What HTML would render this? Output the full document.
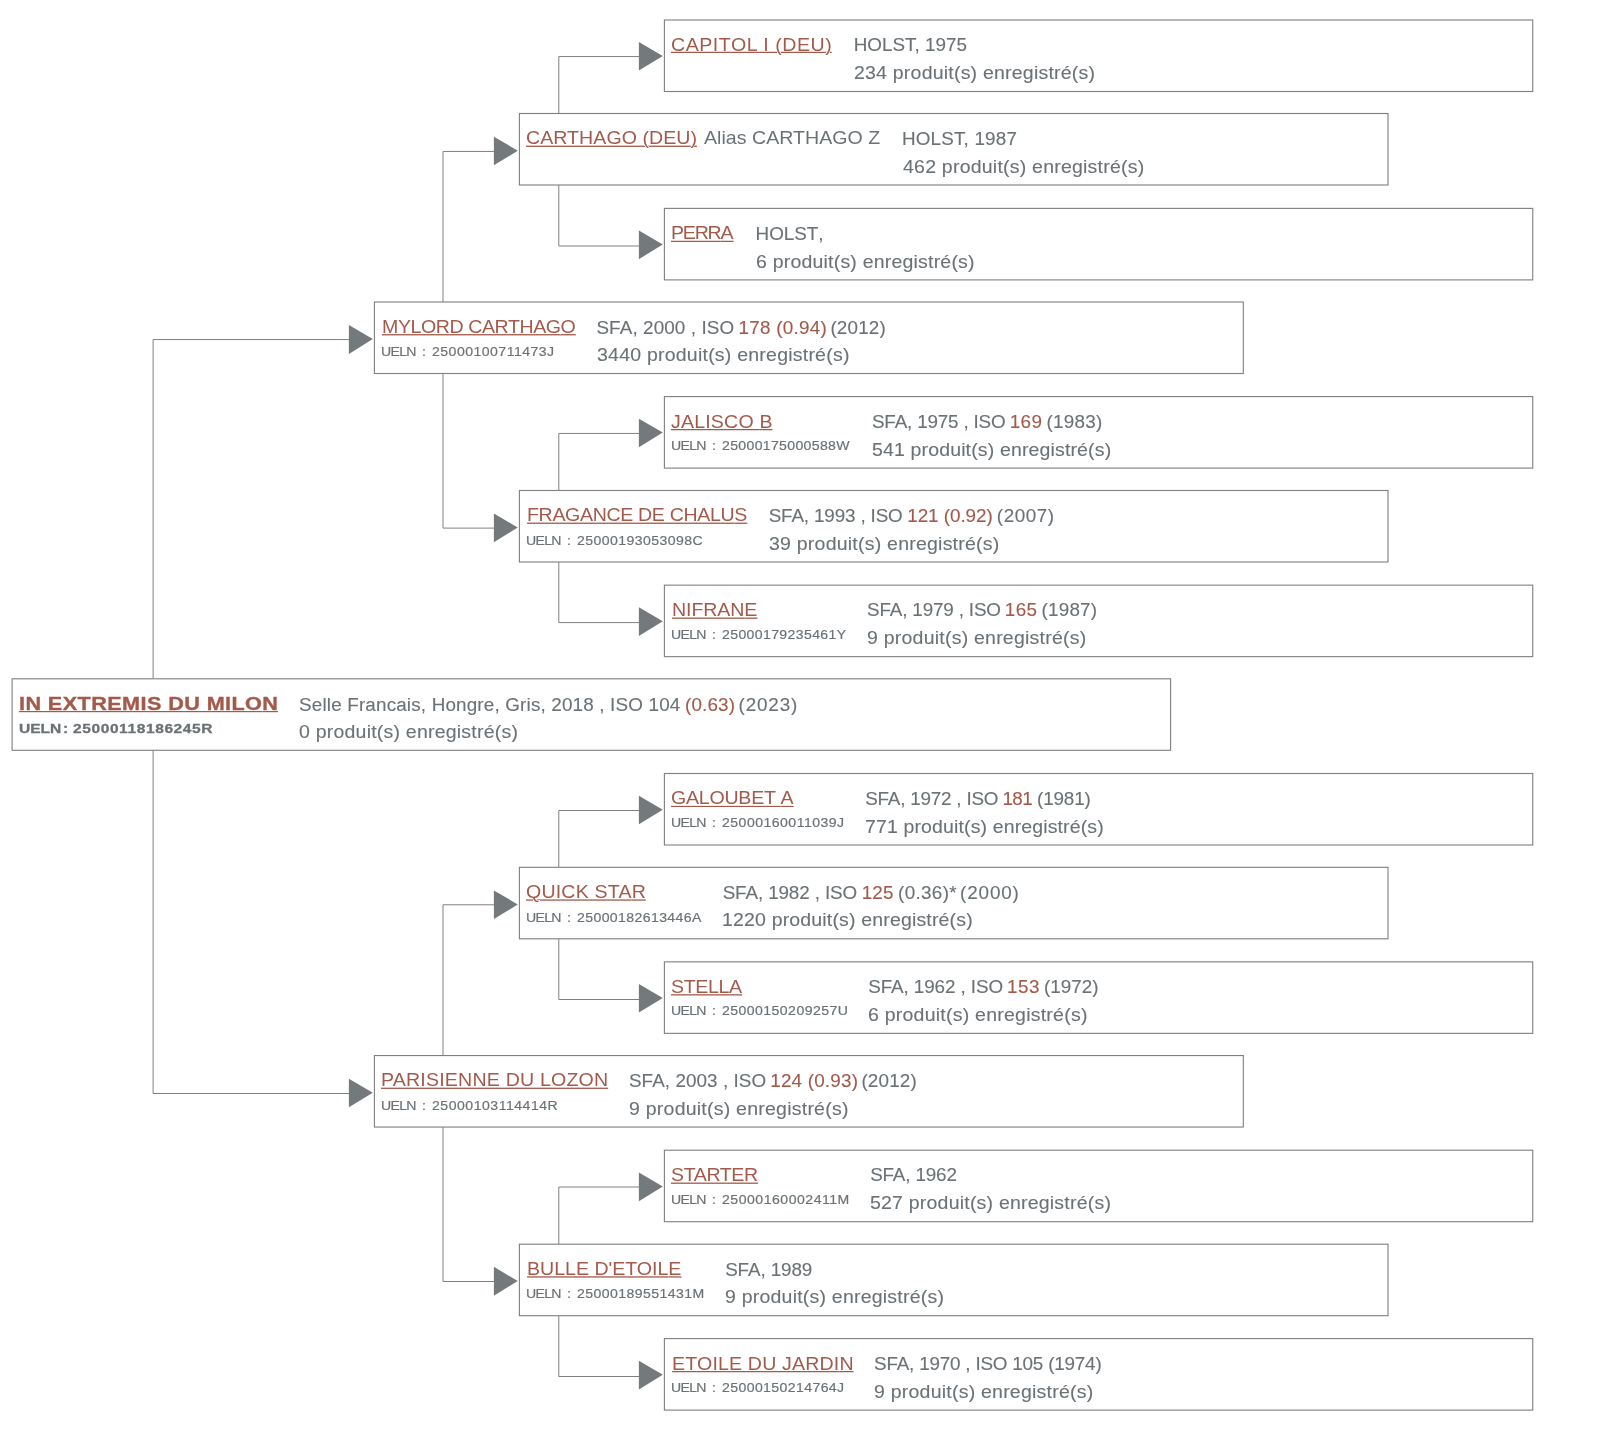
<!DOCTYPE html>
<html lang="fr"><head><meta charset="utf-8"><title>Pedigree - IN EXTREMIS DU MILON</title>
<style>
html,body{margin:0;padding:0;background:#fff}
#c{position:relative;width:1600px;height:1434px;overflow:hidden;background:#fff;font-family:"Liberation Sans",sans-serif;will-change:transform}
#c svg{position:absolute;left:0;top:0}
.t{position:absolute;white-space:pre;line-height:24px;transform-origin:0 50%;display:block;color:#6b7276}
.n{font-size:19.0px;color:#a35a4b;text-decoration:underline;text-decoration-thickness:1px;text-underline-offset:1.3px}
.u2{text-decoration:underline;text-decoration-thickness:1px;text-underline-offset:2.3px;text-decoration-color:rgba(163,90,75,.33)}
.a{font-size:19.0px}
.u{font-size:13.4px;-webkit-text-stroke:0.2px}
.i{font-size:18.85px;-webkit-text-stroke:0.12px}
.r{color:#a35a4b}
.b{font-weight:bold;-webkit-text-stroke:0.35px #a35a4b}
.u.b{-webkit-text-stroke:0.3px #6b7276}
.z{letter-spacing:0}
</style></head><body>
<div id="c">
<svg width="1600" height="1434" viewBox="0 0 1600 1434">
<g fill="none" stroke="#808080" stroke-width="1.0">
<path d="M153.10 678.80V339.55H350.90"/>
<path d="M153.10 750.30V1093.50H350.90"/>
<path d="M443.00 302.00V151.45H495.90"/>
<path d="M443.00 373.50V528.10H495.90"/>
<path d="M443.00 1055.55V904.80H495.90"/>
<path d="M443.00 1127.05V1281.50H495.90"/>
<path d="M558.80 113.50V56.55H640.90"/>
<path d="M558.80 185.00V246.00H640.90"/>
<path d="M558.80 490.50V433.45H640.90"/>
<path d="M558.80 562.00V622.60H640.90"/>
<path d="M558.80 867.30V810.50H640.90"/>
<path d="M558.80 938.80V999.50H640.90"/>
<path d="M558.80 1244.20V1187.00H640.90"/>
<path d="M558.80 1315.70V1376.50H640.90"/>
</g>
<g fill="#747a7c">
<path d="M638.90 41.95L662.80 55.90L638.90 70.55Z"/>
<path d="M493.90 136.65L517.80 150.63L493.90 165.30Z"/>
<path d="M638.90 230.50L662.80 244.47L638.90 259.15Z"/>
<path d="M348.90 324.95L372.80 339.10L348.90 353.95Z"/>
<path d="M638.90 418.65L662.80 432.62L638.90 447.30Z"/>
<path d="M493.90 513.50L517.80 527.48L493.90 542.15Z"/>
<path d="M638.90 607.30L662.80 621.27L638.90 635.95Z"/>
<path d="M638.90 795.70L662.80 809.65L638.90 824.30Z"/>
<path d="M493.90 890.45L517.80 904.40L493.90 919.05Z"/>
<path d="M638.90 983.95L662.80 997.90L638.90 1012.55Z"/>
<path d="M348.90 1078.70L372.80 1092.68L348.90 1107.35Z"/>
<path d="M638.90 1172.50L662.80 1186.48L638.90 1201.15Z"/>
<path d="M493.90 1266.85L517.80 1281.00L493.90 1295.85Z"/>
<path d="M638.90 1360.75L662.80 1374.75L638.90 1389.45Z"/>
</g>
<g fill="#fff" stroke="#808080" stroke-width="1.12">
<rect x="664.40" y="20.00" width="868.35" height="71.5"/>
<rect x="519.40" y="113.50" width="868.60" height="71.5"/>
<rect x="664.40" y="208.40" width="868.35" height="71.5"/>
<rect x="374.40" y="302.00" width="868.90" height="71.5"/>
<rect x="664.40" y="396.60" width="868.35" height="71.5"/>
<rect x="519.40" y="490.50" width="868.60" height="71.5"/>
<rect x="664.40" y="585.15" width="868.35" height="71.5"/>
<rect x="12.10" y="678.80" width="1158.50" height="71.5"/>
<rect x="664.40" y="773.50" width="868.35" height="71.5"/>
<rect x="519.40" y="867.30" width="868.60" height="71.5"/>
<rect x="664.40" y="961.85" width="868.35" height="71.5"/>
<rect x="374.40" y="1055.55" width="868.90" height="71.5"/>
<rect x="664.40" y="1150.20" width="868.35" height="71.5"/>
<rect x="519.40" y="1244.20" width="868.60" height="71.5"/>
<rect x="664.40" y="1338.60" width="868.35" height="71.5"/>
</g>
</svg>
<span class="t n" style="left:671.00px;top:33px;letter-spacing:0.512px;transform:scaleX(1.0300);text-underline-offset:1px;text-decoration-color:rgba(163,90,75,1.00);"><span class="u2" style="text-underline-offset:0px;text-decoration-color:rgba(163,90,75,0.25)">CAPITOL I (DEU<span class="z">)</span></span></span>
<span class="t i" style="left:853.72px;top:33px;letter-spacing:0.010px;">HOLST, 197<span class="z">5</span></span>
<span class="t i" style="left:853.70px;top:61px;letter-spacing:0.205px;transform:scaleX(1.0350);">234 produit(s) enregistré(s<span class="z">)</span></span>
<span class="t n" style="left:526.00px;top:126px;letter-spacing:0.045px;transform:scaleX(1.0300);text-underline-offset:2px;text-decoration-color:rgba(163,90,75,0.90);"><span class="u2" style="text-underline-offset:1px;text-decoration-color:rgba(163,90,75,0.40)">CARTHAGO (DEU<span class="z">)</span></span></span>
<span class="t a" style="left:704.18px;top:126px;letter-spacing:0.025px;transform:scaleX(1.0300);">Alias CARTHAGO <span class="z">Z</span></span>
<span class="t i" style="left:901.97px;top:127px;letter-spacing:0.175px;">HOLST, 198<span class="z">7</span></span>
<span class="t i" style="left:903.43px;top:155px;letter-spacing:0.214px;transform:scaleX(1.0350);">462 produit(s) enregistré(s<span class="z">)</span></span>
<span class="t n" style="left:671.41px;top:221px;letter-spacing:-1.196px;transform:scaleX(1.0300);text-underline-offset:2px;text-decoration-color:rgba(163,90,75,1.00);"><span class="u2" style="text-underline-offset:1px;text-decoration-color:rgba(163,90,75,0.25)">PERR<span class="z">A</span></span></span>
<span class="t i" style="left:755.56px;top:222px;letter-spacing:-0.023px;">HOLST<span class="z">,</span></span>
<span class="t i" style="left:755.70px;top:250px;letter-spacing:0.194px;transform:scaleX(1.0350);">6 produit(s) enregistré(s<span class="z">)</span></span>
<span class="t n" style="left:382.01px;top:315px;letter-spacing:-0.410px;transform:scaleX(1.0300);text-underline-offset:1px;text-decoration-color:rgba(163,90,75,0.90);"><span class="u2" style="text-underline-offset:2px;text-decoration-color:rgba(163,90,75,0.40)">MYLORD CARTHAG<span class="z">O</span></span></span>
<span class="t u" style="left:381.18px;top:340px;letter-spacing:-0.654px;transform:scaleX(1.0500);">UEL<span class="z">N</span></span>
<span class="t u" style="left:421.76px;top:340px;transform:scaleX(1.0500);">:</span>
<span class="t u" style="left:431.85px;top:340px;letter-spacing:0.452px;transform:scaleX(1.0500);">25000100711473<span class="z">J</span></span>
<span class="t i" style="left:596.43px;top:316px;letter-spacing:0.116px;">SFA, 2000 , IS<span class="z">O</span></span>
<span class="t i r" style="left:738.44px;top:316px;letter-spacing:0.257px;">178 (0.94<span class="z">)</span></span>
<span class="t i" style="left:830.42px;top:316px;letter-spacing:0.167px;">(2012<span class="z">)</span></span>
<span class="t i" style="left:596.85px;top:343px;letter-spacing:0.218px;transform:scaleX(1.0350);">3440 produit(s) enregistré(s<span class="z">)</span></span>
<span class="t n" style="left:670.97px;top:410px;letter-spacing:0.173px;transform:scaleX(1.0300);text-underline-offset:1px;text-decoration-color:rgba(163,90,75,1.00);"><span class="u2" style="text-underline-offset:2px;text-decoration-color:rgba(163,90,75,0.25)">JALISCO <span class="z">B</span></span></span>
<span class="t u" style="left:671.18px;top:434px;letter-spacing:-0.654px;transform:scaleX(1.0500);">UEL<span class="z">N</span></span>
<span class="t u" style="left:711.76px;top:434px;transform:scaleX(1.0500);">:</span>
<span class="t u" style="left:722.20px;top:434px;letter-spacing:0.323px;transform:scaleX(1.0500);">25000175000588<span class="z">W</span></span>
<span class="t i" style="left:871.98px;top:410px;letter-spacing:-0.182px;">SFA, 1975 , IS<span class="z">O</span></span>
<span class="t i r" style="left:1009.63px;top:410px;letter-spacing:0.507px;">16<span class="z">9</span></span>
<span class="t i" style="left:1046.42px;top:410px;letter-spacing:0.276px;">(1983<span class="z">)</span></span>
<span class="t i" style="left:872.26px;top:438px;letter-spacing:0.140px;transform:scaleX(1.0350);">541 produit(s) enregistré(s<span class="z">)</span></span>
<span class="t n" style="left:527.01px;top:503px;letter-spacing:-0.335px;transform:scaleX(1.0300);text-underline-offset:2px;text-decoration-color:rgba(163,90,75,0.90);"><span class="u2" style="text-underline-offset:1px;text-decoration-color:rgba(163,90,75,0.40)">FRAGANCE DE CHALU<span class="z">S</span></span></span>
<span class="t u" style="left:526.18px;top:529px;letter-spacing:-0.654px;transform:scaleX(1.0500);">UEL<span class="z">N</span></span>
<span class="t u" style="left:566.76px;top:529px;transform:scaleX(1.0500);">:</span>
<span class="t u" style="left:576.85px;top:529px;letter-spacing:0.415px;transform:scaleX(1.0500);">25000193053098<span class="z">C</span></span>
<span class="t i" style="left:768.71px;top:504px;letter-spacing:-0.155px;">SFA, 1993 , IS<span class="z">O</span></span>
<span class="t i r" style="left:907.19px;top:504px;letter-spacing:-0.038px;">121 (0.92<span class="z">)</span></span>
<span class="t i" style="left:996.80px;top:504px;letter-spacing:0.570px;">(2007<span class="z">)</span></span>
<span class="t i" style="left:768.98px;top:532px;letter-spacing:0.218px;transform:scaleX(1.0350);">39 produit(s) enregistré(s<span class="z">)</span></span>
<span class="t n" style="left:671.54px;top:598px;letter-spacing:-0.081px;transform:scaleX(1.0300);text-underline-offset:2px;text-decoration-color:rgba(163,90,75,0.80);"><span class="u2" style="text-underline-offset:1px;text-decoration-color:rgba(163,90,75,0.50)">NIFRAN<span class="z">E</span></span></span>
<span class="t u" style="left:671.18px;top:623px;letter-spacing:-0.654px;transform:scaleX(1.0500);">UEL<span class="z">N</span></span>
<span class="t u" style="left:711.76px;top:623px;transform:scaleX(1.0500);">:</span>
<span class="t u" style="left:721.85px;top:623px;letter-spacing:0.356px;transform:scaleX(1.0500);">25000179235461<span class="z">Y</span></span>
<span class="t i" style="left:867.05px;top:598px;letter-spacing:-0.158px;">SFA, 1979 , IS<span class="z">O</span></span>
<span class="t i r" style="left:1004.80px;top:598px;letter-spacing:0.398px;">16<span class="z">5</span></span>
<span class="t i" style="left:1041.42px;top:598px;letter-spacing:0.245px;">(1987<span class="z">)</span></span>
<span class="t i" style="left:866.99px;top:626px;letter-spacing:0.219px;transform:scaleX(1.0350);">9 produit(s) enregistré(s<span class="z">)</span></span>
<span class="t n b" style="left:18.99px;top:692px;letter-spacing:0.346px;transform:scaleX(1.1400);text-underline-offset:1px;text-decoration-color:rgba(163,90,75,1.00);"><span class="u2" style="text-underline-offset:2px;text-decoration-color:rgba(163,90,75,0.20)">IN EXTREMIS DU MILO<span class="z">N</span></span></span>
<span class="t u b" style="left:19.13px;top:717px;letter-spacing:-0.032px;transform:scaleX(1.1600);">UEL<span class="z">N</span></span>
<span class="t u b" style="left:63.00px;top:717px;transform:scaleX(1.1600);">:</span>
<span class="t u b" style="left:72.72px;top:717px;letter-spacing:0.504px;transform:scaleX(1.1600);">25000118186245<span class="z">R</span></span>
<span class="t i" style="left:299.05px;top:693px;letter-spacing:0.170px;">Selle Francais, Hongre, Gris, 2018 , ISO 10<span class="z">4</span></span>
<span class="t i r" style="left:685.06px;top:693px;letter-spacing:0.130px;">(0.63<span class="z">)</span></span>
<span class="t i" style="left:738.62px;top:693px;letter-spacing:0.836px;">(2023<span class="z">)</span></span>
<span class="t i" style="left:299.26px;top:720px;letter-spacing:0.207px;transform:scaleX(1.0350);">0 produit(s) enregistré(s<span class="z">)</span></span>
<span class="t n" style="left:671.00px;top:786px;letter-spacing:-0.231px;transform:scaleX(1.0300);text-underline-offset:2px;text-decoration-color:rgba(163,90,75,1.00);"><span class="u2" style="text-underline-offset:1px;text-decoration-color:rgba(163,90,75,0.15)">GALOUBET <span class="z">A</span></span></span>
<span class="t u" style="left:671.18px;top:811px;letter-spacing:-0.654px;transform:scaleX(1.0500);">UEL<span class="z">N</span></span>
<span class="t u" style="left:711.76px;top:811px;transform:scaleX(1.0500);">:</span>
<span class="t u" style="left:721.85px;top:811px;letter-spacing:0.452px;transform:scaleX(1.0500);">25000160011039<span class="z">J</span></span>
<span class="t i" style="left:865.16px;top:787px;letter-spacing:-0.207px;">SFA, 1972 , IS<span class="z">O</span></span>
<span class="t i r" style="left:1002.52px;top:787px;letter-spacing:-0.660px;">18<span class="z">1</span></span>
<span class="t i" style="left:1037.05px;top:787px;letter-spacing:-0.151px;">(1981<span class="z">)</span></span>
<span class="t i" style="left:864.75px;top:815px;letter-spacing:0.124px;transform:scaleX(1.0350);">771 produit(s) enregistré(s<span class="z">)</span></span>
<span class="t n" style="left:526.00px;top:880px;letter-spacing:0.178px;transform:scaleX(1.0300);text-underline-offset:2px;text-decoration-color:rgba(163,90,75,0.70);"><span class="u2" style="text-underline-offset:1px;text-decoration-color:rgba(163,90,75,0.60)">QUICK STA<span class="z">R</span></span></span>
<span class="t u" style="left:526.18px;top:906px;letter-spacing:-0.654px;transform:scaleX(1.0500);">UEL<span class="z">N</span></span>
<span class="t u" style="left:566.76px;top:906px;transform:scaleX(1.0500);">:</span>
<span class="t u" style="left:577.20px;top:906px;letter-spacing:0.377px;transform:scaleX(1.0500);">25000182613446<span class="z">A</span></span>
<span class="t i" style="left:722.68px;top:881px;letter-spacing:-0.122px;">SFA, 1982 , IS<span class="z">O</span></span>
<span class="t i r" style="left:861.63px;top:881px;letter-spacing:0.207px;">12<span class="z">5</span></span>
<span class="t i" style="left:898.05px;top:881px;letter-spacing:0.335px;">(0.36)<span class="z">*</span></span>
<span class="t i" style="left:960.05px;top:881px;letter-spacing:0.867px;">(2000<span class="z">)</span></span>
<span class="t i" style="left:722.10px;top:908px;letter-spacing:0.159px;transform:scaleX(1.0350);">1220 produit(s) enregistré(s<span class="z">)</span></span>
<span class="t n" style="left:670.73px;top:975px;letter-spacing:-0.333px;transform:scaleX(1.0300);text-underline-offset:1px;text-decoration-color:rgba(163,90,75,0.80);"><span class="u2" style="text-underline-offset:2px;text-decoration-color:rgba(163,90,75,0.50)">STELL<span class="z">A</span></span></span>
<span class="t u" style="left:671.18px;top:999px;letter-spacing:-0.654px;transform:scaleX(1.0500);">UEL<span class="z">N</span></span>
<span class="t u" style="left:711.76px;top:999px;transform:scaleX(1.0500);">:</span>
<span class="t u" style="left:721.85px;top:999px;letter-spacing:0.424px;transform:scaleX(1.0500);">25000150209257<span class="z">U</span></span>
<span class="t i" style="left:868.23px;top:975px;letter-spacing:-0.096px;">SFA, 1962 , IS<span class="z">O</span></span>
<span class="t i r" style="left:1007.02px;top:975px;letter-spacing:0.504px;">15<span class="z">3</span></span>
<span class="t i" style="left:1044.05px;top:975px;letter-spacing:0.018px;">(1972<span class="z">)</span></span>
<span class="t i" style="left:868.32px;top:1003px;letter-spacing:0.226px;transform:scaleX(1.0350);">6 produit(s) enregistré(s<span class="z">)</span></span>
<span class="t n" style="left:380.96px;top:1068px;letter-spacing:0.187px;transform:scaleX(1.0300);text-underline-offset:2px;text-decoration-color:rgba(163,90,75,0.95);"><span class="u2" style="text-underline-offset:1px;text-decoration-color:rgba(163,90,75,0.35)">PARISIENNE DU LOZO<span class="z">N</span></span></span>
<span class="t u" style="left:381.18px;top:1094px;letter-spacing:-0.654px;transform:scaleX(1.0500);">UEL<span class="z">N</span></span>
<span class="t u" style="left:421.76px;top:1094px;transform:scaleX(1.0500);">:</span>
<span class="t u" style="left:431.85px;top:1094px;letter-spacing:0.485px;transform:scaleX(1.0500);">25000103114414<span class="z">R</span></span>
<span class="t i" style="left:628.98px;top:1069px;letter-spacing:0.074px;">SFA, 2003 , IS<span class="z">O</span></span>
<span class="t i r" style="left:770.19px;top:1069px;letter-spacing:0.209px;">124 (0.93<span class="z">)</span></span>
<span class="t i" style="left:861.42px;top:1069px;letter-spacing:0.172px;">(2012<span class="z">)</span></span>
<span class="t i" style="left:628.99px;top:1097px;letter-spacing:0.227px;transform:scaleX(1.0350);">9 produit(s) enregistré(s<span class="z">)</span></span>
<span class="t n" style="left:671.02px;top:1163px;letter-spacing:-0.394px;transform:scaleX(1.0300);text-underline-offset:2px;text-decoration-color:rgba(163,90,75,0.85);"><span class="u2" style="text-underline-offset:1px;text-decoration-color:rgba(163,90,75,0.45)">STARTE<span class="z">R</span></span></span>
<span class="t u" style="left:671.18px;top:1188px;letter-spacing:-0.654px;transform:scaleX(1.0500);">UEL<span class="z">N</span></span>
<span class="t u" style="left:711.76px;top:1188px;transform:scaleX(1.0500);">:</span>
<span class="t u" style="left:721.51px;top:1188px;letter-spacing:0.488px;transform:scaleX(1.0500);">25000160002411<span class="z">M</span></span>
<span class="t i" style="left:870.16px;top:1163px;letter-spacing:-0.163px;">SFA, 196<span class="z">2</span></span>
<span class="t i" style="left:870.46px;top:1191px;letter-spacing:0.202px;transform:scaleX(1.0350);">527 produit(s) enregistré(s<span class="z">)</span></span>
<span class="t n" style="left:526.66px;top:1257px;letter-spacing:-0.011px;transform:scaleX(1.0300);text-underline-offset:1px;text-decoration-color:rgba(163,90,75,0.70);"><span class="u2" style="text-underline-offset:2px;text-decoration-color:rgba(163,90,75,0.60)">BULLE D'ETOIL<span class="z">E</span></span></span>
<span class="t u" style="left:526.18px;top:1282px;letter-spacing:-0.654px;transform:scaleX(1.0500);">UEL<span class="z">N</span></span>
<span class="t u" style="left:566.76px;top:1282px;transform:scaleX(1.0500);">:</span>
<span class="t u" style="left:576.69px;top:1282px;letter-spacing:0.417px;transform:scaleX(1.0500);">25000189551431<span class="z">M</span></span>
<span class="t i" style="left:725.13px;top:1258px;letter-spacing:-0.108px;">SFA, 198<span class="z">9</span></span>
<span class="t i" style="left:725.49px;top:1285px;letter-spacing:0.208px;transform:scaleX(1.0350);">9 produit(s) enregistré(s<span class="z">)</span></span>
<span class="t n" style="left:671.81px;top:1352px;letter-spacing:0.162px;transform:scaleX(1.0300);text-underline-offset:1px;text-decoration-color:rgba(163,90,75,1.00);"><span class="u2" style="text-underline-offset:2px;text-decoration-color:rgba(163,90,75,0.25)">ETOILE DU JARDI<span class="z">N</span></span></span>
<span class="t u" style="left:671.18px;top:1376px;letter-spacing:-0.654px;transform:scaleX(1.0500);">UEL<span class="z">N</span></span>
<span class="t u" style="left:711.76px;top:1376px;transform:scaleX(1.0500);">:</span>
<span class="t u" style="left:721.85px;top:1376px;letter-spacing:0.382px;transform:scaleX(1.0500);">25000150214764<span class="z">J</span></span>
<span class="t i" style="left:874.05px;top:1352px;letter-spacing:-0.197px;">SFA, 1970 , ISO 105 (1974<span class="z">)</span></span>
<span class="t i" style="left:873.99px;top:1380px;letter-spacing:0.219px;transform:scaleX(1.0350);">9 produit(s) enregistré(s<span class="z">)</span></span>
</div></body></html>
